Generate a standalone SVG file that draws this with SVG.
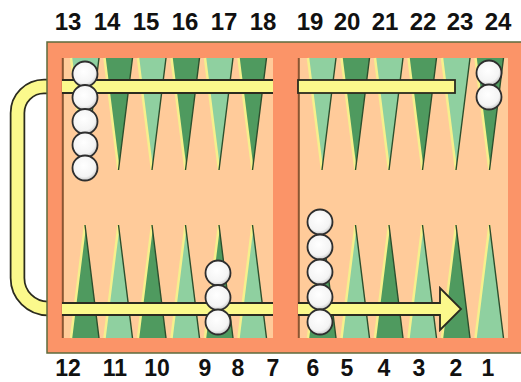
<svg xmlns="http://www.w3.org/2000/svg" width="521" height="382" viewBox="0 0 521 382">
<style>
.num{font-family:"Liberation Sans",Arial,sans-serif;font-weight:bold;font-size:24px;fill:#111;text-anchor:middle}
.nb{font-size:23px}
.dk{fill:#4f9a5f}
.lt{fill:#8fd0a0}
.hl{stroke:#f6f08c;stroke-width:2.5;fill:none}
.sh{stroke:#2d4f2d;stroke-width:1.4;fill:none}
.bar{fill:#fbf98c}
.edge{stroke:#2b2b1f;stroke-width:1.8;fill:none}
.ck{fill:url(#ckg);stroke:#2e2e2e;stroke-width:1.8}
</style>
<defs>
<radialGradient id="ckg" cx="0.45" cy="0.4" r="0.6">
<stop offset="0" stop-color="#ffffff"/>
<stop offset="0.75" stop-color="#f4f4f4"/>
<stop offset="1" stop-color="#c8c8c8"/>
</radialGradient>
</defs>
<rect width="521" height="382" fill="#ffffff"/>

<g id="handle">
<path d="M52 86.5 H44 A26.5 26.5 0 0 0 17.5 113 V278 A30.5 30.5 0 0 0 48 308.5 H52" fill="none" stroke="#2b2b1f" stroke-width="15.5"/>
<path d="M52 86.5 H44 A26.5 26.5 0 0 0 17.5 113 V278 A30.5 30.5 0 0 0 48 308.5 H52" fill="none" stroke="#fbf98c" stroke-width="12"/>
</g>

<g id="board">
<rect x="47" y="42" width="478" height="311" fill="#fb9468" stroke="#5d6b3c" stroke-width="1.5"/>
<rect x="62" y="58" width="211" height="280" fill="#ffcb9a"/>
<rect x="298" y="58" width="210" height="280" fill="#ffcb9a"/>
<line x1="62.8" y1="58" x2="62.8" y2="338" stroke="#8a5532" stroke-width="2"/>
<line x1="298.8" y1="58" x2="298.8" y2="338" stroke="#8a5532" stroke-width="2"/>
</g>

<g id="points">
<polygon class="lt" points="71,58 99,58 85,170"/>
<polygon class="dk" points="104.5,58 132.5,58 118.5,170"/>
<polygon class="lt" points="138,58 166,58 152,170"/>
<polygon class="dk" points="171.5,58 199.5,58 185.5,170"/>
<polygon class="lt" points="205,58 233,58 219,170"/>
<polygon class="dk" points="238.5,58 266.5,58 252.5,170"/>
<polygon class="lt" points="308,58 336,58 322,170"/>
<polygon class="dk" points="341.5,58 369.5,58 355.5,170"/>
<polygon class="lt" points="375,58 403,58 389,170"/>
<polygon class="dk" points="408.5,58 436.5,58 422.5,170"/>
<polygon class="lt" points="442,58 470,58 456,170"/>
<polygon class="dk" points="475.5,58 503.5,58 489.5,170"/>
<polygon class="dk" points="71,338 99,338 85,225"/>
<polygon class="lt" points="104.5,338 132.5,338 118.5,225"/>
<polygon class="dk" points="138,338 166,338 152,225"/>
<polygon class="lt" points="171.5,338 199.5,338 185.5,225"/>
<polygon class="dk" points="205,338 233,338 219,225"/>
<polygon class="lt" points="238.5,338 266.5,338 252.5,225"/>
<polygon class="dk" points="308,338 336,338 322,225"/>
<polygon class="lt" points="341.5,338 369.5,338 355.5,225"/>
<polygon class="dk" points="375,338 403,338 389,225"/>
<polygon class="lt" points="408.5,338 436.5,338 422.5,225"/>
<polygon class="dk" points="442,338 470,338 456,225"/>
<polygon class="lt" points="475.5,338 503.5,338 489.5,225"/>
<path class="hl" d="M71 58 L85 170 M104.5 58 L118.5 170 M138 58 L152 170 M171.5 58 L185.5 170 M205 58 L219 170 M238.5 58 L252.5 170 M308 58 L322 170 M341.5 58 L355.5 170 M375 58 L389 170 M408.5 58 L422.5 170 M442 58 L456 170 M475.5 58 L489.5 170"/>
<path class="hl" d="M71 338 L85 225 M104.5 338 L118.5 225 M138 338 L152 225 M171.5 338 L185.5 225 M205 338 L219 225 M238.5 338 L252.5 225 M308 338 L322 225 M341.5 338 L355.5 225 M375 338 L389 225 M408.5 338 L422.5 225 M442 338 L456 225 M475.5 338 L489.5 225"/>
<path class="sh" d="M99 58 L85 170 M132.5 58 L118.5 170 M166 58 L152 170 M199.5 58 L185.5 170 M233 58 L219 170 M266.5 58 L252.5 170 M336 58 L322 170 M369.5 58 L355.5 170 M403 58 L389 170 M436.5 58 L422.5 170 M470 58 L456 170 M503.5 58 L489.5 170"/>
<path class="sh" d="M99 338 L85 225 M132.5 338 L118.5 225 M166 338 L152 225 M199.5 338 L185.5 225 M233 338 L219 225 M266.5 338 L252.5 225 M336 338 L322 225 M369.5 338 L355.5 225 M403 338 L389 225 M436.5 338 L422.5 225 M470 338 L456 225 M503.5 338 L489.5 225"/>
</g>

<g id="connectors">
<g id="bar-top-left">
<rect class="bar" x="62" y="80" width="211" height="13"/>
<path class="edge" d="M62 80 H273 M62 93 H273"/>
</g>
<g id="bar-top-right">
<rect class="bar" x="298" y="80" width="157" height="13" stroke="#2b2b1f" stroke-width="1.8"/>
</g>
<g id="bar-bottom-left">
<rect class="bar" x="62" y="303" width="211" height="12"/>
<path class="edge" d="M62 303 H273 M62 315 H273"/>
</g>
<g id="arrow-bottom-right">
<path class="bar" d="M298 303 H440 V288 L461 309 L440 330 V315 H298 Z"/>
<path class="edge" d="M298 303 H440 V288 L461 309 L440 330 V315 H298"/>
</g>
</g>

<g id="checkers">
<g id="stack-13">
<circle class="ck" cx="85" cy="74" r="12.5"/>
<circle class="ck" cx="85" cy="97.5" r="12.5"/>
<circle class="ck" cx="85" cy="121.5" r="12.5"/>
<circle class="ck" cx="85" cy="145" r="12.5"/>
<circle class="ck" cx="85" cy="168" r="12.5"/>
</g>
<g id="stack-24">
<circle class="ck" cx="489" cy="73" r="12.5"/>
<circle class="ck" cx="489" cy="97" r="12.5"/>
</g>
<g id="stack-8">
<circle class="ck" cx="218" cy="273" r="12.5"/>
<circle class="ck" cx="218" cy="297.5" r="12.5"/>
<circle class="ck" cx="218" cy="322" r="12.5"/>
</g>
<g id="stack-6">
<circle class="ck" cx="320" cy="222" r="12.5"/>
<circle class="ck" cx="320" cy="247" r="12.5"/>
<circle class="ck" cx="320" cy="272" r="12.5"/>
<circle class="ck" cx="320" cy="297" r="12.5"/>
<circle class="ck" cx="320" cy="322" r="12.5"/>
</g>
</g>

<g id="labels-top">
<text class="num" x="68" y="30">13</text>
<text class="num" x="107" y="30">14</text>
<text class="num" x="146" y="30">15</text>
<text class="num" x="185" y="30">16</text>
<text class="num" x="224" y="30">17</text>
<text class="num" x="263" y="30">18</text>
<text class="num" x="310" y="30">19</text>
<text class="num" x="347" y="30">20</text>
<text class="num" x="385" y="30">21</text>
<text class="num" x="423" y="30">22</text>
<text class="num" x="460" y="30">23</text>
<text class="num" x="498" y="30">24</text>
</g>
<g id="labels-bottom">
<text class="num nb" x="68" y="376">12</text>
<text class="num nb" x="115" y="376">11</text>
<text class="num nb" x="157" y="376">10</text>
<text class="num nb" x="205" y="376">9</text>
<text class="num nb" x="238" y="376">8</text>
<text class="num nb" x="273" y="376">7</text>
<text class="num nb" x="313" y="376">6</text>
<text class="num nb" x="347" y="376">5</text>
<text class="num nb" x="384" y="376">4</text>
<text class="num nb" x="419" y="376">3</text>
<text class="num nb" x="456" y="376">2</text>
<text class="num nb" x="488" y="376">1</text>
</g>
</svg>
